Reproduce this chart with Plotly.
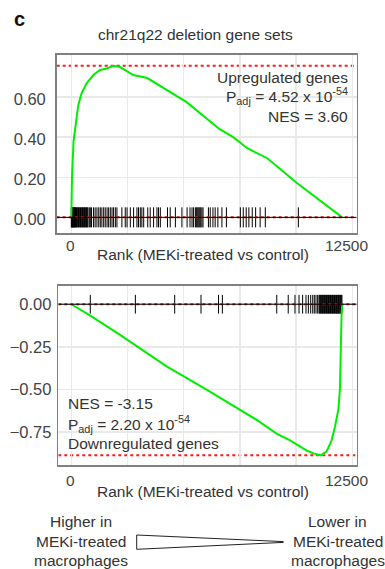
import plotly.graph_objects as go

# ---------------- data ----------------
# Upregulated gene set: running enrichment score
up_rank = [0, 30, 100, 200, 310, 460, 690, 980, 1280, 1570, 1870, 2170, 2760, 3380,
           3950, 5130, 6600, 7200, 7830, 8720, 10050, 11000, 12055]
up_es = [0.0, 0.20, 0.38, 0.47, 0.56, 0.62, 0.67, 0.71, 0.735, 0.743, 0.756, 0.75, 0.71,
         0.695, 0.655, 0.575, 0.44, 0.40, 0.345, 0.295, 0.17, 0.09, 0.0]
# Upregulated gene set: ranks of member genes (rug)
up_hits = [0, 15, 30, 45, 60, 80, 100, 120, 140, 160, 185, 210, 235, 260, 290, 320, 350,
           380, 410, 440, 470, 500, 530, 560, 590, 620, 650, 680, 710, 740,
           800, 845, 900, 990, 1060, 1140, 1220, 1290, 1360, 1440, 1510, 1590, 1660, 1735,
           1810, 1880, 1960, 2030, 2250, 2400, 2480, 2625, 2770, 2920, 2990, 3070, 3140,
           3220, 3400, 3510, 3660, 3810, 3880, 3960, 4280, 4400, 4630, 4920, 5150, 5280,
           5370, 5440, 5520, 5560, 5600, 5640, 5680, 5720, 5760, 5810, 5860, 6100, 6180,
           6300, 6400, 6520, 6700, 6900, 7520, 7650, 7780, 7900, 8050, 8200, 8400, 8630,
           10100]

# Downregulated gene set: running enrichment score
down_rank = [0, 830, 2170, 4240, 6000, 8250, 9130, 9730, 10170, 10470, 10800, 11100,
             11360, 11580, 11730, 11880, 11950, 11985, 12025, 12055]
down_es = [0.0, -0.065, -0.18, -0.365, -0.50, -0.68, -0.76, -0.80, -0.835, -0.86, -0.878,
           -0.888, -0.865, -0.80, -0.72, -0.62, -0.50, -0.25, -0.05, 0.0]
down_hits = [845, 2850, 4600, 5770, 6550, 6720, 9140, 9650, 9950, 10130, 10290, 10440,
             10545, 10650, 10740, 10810, 10885, 10960, 11020, 11050, 11080, 11110, 11140,
             11170, 11200, 11230, 11260, 11290, 11320, 11350, 11380, 11410, 11440, 11470,
             11500, 11530, 11560, 11590, 11620, 11650, 11680, 11710, 11740, 11770, 11800,
             11830, 11860, 11890, 11920, 11950, 11980, 12010, 12040]

x_grid = [0, 2500, 5000, 7500, 10000, 12500]
x_labels = ["0", "12500"]
x_label_vals = [0, 12500]
top_yticks = [0.0, 0.2, 0.4, 0.6]
bot_yticks = [0.0, -0.25, -0.5, -0.75]

title = "chr21q22 deletion gene sets"
xtitle = "Rank (MEKi-treated vs control)"
up_text = ["Upregulated genes", "P<sub>adj</sub> = 4.52 x 10<sup>-54</sup>", "NES = 3.60"]
down_text = ["NES = -3.15", "P<sub>adj</sub> = 2.20 x 10<sup>-54</sup>", "Downregulated genes"]
left_caption = ["Higher in", "MEKi-treated", "macrophages"]
right_caption = ["Lower in", "MEKi-treated", "macrophages"]

# ---------------- layout helpers ----------------
W, H = 385, 569
def PX(x):
    return x / W
def PY(y):
    return 1 - y / H

FONT = "Liberation Sans, Arial, sans-serif"
TXT = "#333333"
GREEN = "#00ee00"
GRID = "#e9e9e9"
FRAME = "#808080"

def rug(hits, h):
    xs, ys = [], []
    for r in hits:
        xs += [r, r, None]
        ys += [-h, h, None]
    return xs, ys

fig = go.Figure()
rx, ry = rug(up_hits, 0.05)
fig.add_trace(go.Scatter(x=rx, y=ry, mode="lines", line=dict(color="black", width=1),
                         xaxis="x", yaxis="y", hoverinfo="skip"))
fig.add_trace(go.Scatter(x=up_rank, y=up_es, mode="lines", line=dict(color=GREEN, width=2),
                         xaxis="x", yaxis="y"))
rx2, ry2 = rug(down_hits, 0.055)
fig.add_trace(go.Scatter(x=rx2, y=ry2, mode="lines", line=dict(color="black", width=1),
                         xaxis="x2", yaxis="y2", hoverinfo="skip"))
fig.add_trace(go.Scatter(x=down_rank, y=down_es, mode="lines", line=dict(color=GREEN, width=2),
                         xaxis="x2", yaxis="y2"))

common_x = dict(tickvals=x_grid, showticklabels=False, showgrid=True, gridcolor=GRID,
                gridwidth=1.5, showline=True, mirror=True, linecolor=FRAME, linewidth=1.6,
                zeroline=False, ticks="", fixedrange=True)
common_y = dict(showgrid=True, gridcolor=GRID, gridwidth=1.5, showline=True, mirror=True,
                linecolor=FRAME, linewidth=1.6, zeroline=False, ticks="", tickformat=".2f",
                tickfont=dict(family=FONT, size=16.5, color="#444444"), fixedrange=True)

fig.update_layout(
    width=W, height=H, autosize=False,
    margin=dict(l=0, r=0, t=0, b=0),
    paper_bgcolor="white", plot_bgcolor="white",
    showlegend=False,
    font=dict(family=FONT, color=TXT, size=15.5),
    xaxis=dict(domain=[PX(56.7), PX(356.7)], range=[-650, 12696], anchor="y", **common_x),
    yaxis=dict(domain=[PY(233), PY(55)], range=[-0.078, 0.81], anchor="x",
               tickvals=top_yticks, ticklabelstandoff=6, ticklabelshift=2, **common_y),
    xaxis2=dict(domain=[PX(58.3), PX(356.7)], range=[-578, 12696], anchor="y2", **common_x),
    yaxis2=dict(domain=[PY(465), PY(285.7)], range=[-0.945, 0.109], anchor="x2",
                tickvals=bot_yticks, ticklabelstandoff=2, **common_y),
)

shapes = []
for xa, yr, ext in [("x", "y", max(up_es)), ("x2", "y2", min(down_es))]:
    lo, hi = fig.layout[("xaxis" if xa == "x" else "xaxis2")].range
    shapes.append(dict(type="line", xref=xa, yref=yr, x0=lo, x1=hi, y0=ext, y1=ext,
                       line=dict(color="#ff1a1a", width=2, dash="dot"), layer="below"))
    shapes.append(dict(type="line", xref=xa, yref=yr, x0=lo, x1=hi, y0=0, y1=0,
                       line=dict(color="#cc2222", width=2, dash="dot"), layer="above"))
    shapes.append(dict(type="line", xref=xa, yref=yr, x0=lo, x1=hi, y0=0, y1=0,
                       line=dict(color="black", width=1), layer="above"))
# wedge between the two captions
shapes.append(dict(type="path", xref="paper", yref="paper",
                   path=f"M {PX(136.7)} {PY(535)} L {PX(283.3)} {PY(541.6)} L {PX(283.3)} {PY(542.4)} "
                        f"L {PX(136.7)} {PY(549.3)} Z",
                   line=dict(color="#222222", width=1), fillcolor="white", layer="above"))
fig.update_layout(shapes=shapes)

ann = []
def A(text, x, y, size=15.5, xanchor="center", color=TXT, **kw):
    ann.append(dict(text=text, x=PX(x), y=PY(y), xref="paper", yref="paper",
                    xanchor=xanchor, yanchor="middle", showarrow=False,
                    font=dict(family=FONT, size=size, color=color), **kw))

A("<b>c</b>", 19, 19, size=20, color="#111111")
A(title, 196, 34)
for i, t in enumerate(up_text):
    A(t, 350, [77, 96.5, 117][i], xanchor="right")
for i, t in enumerate(down_text):
    A(t, 66, [403.5, 423.5, 443.5][i], xanchor="left")
# x tick labels & titles
for xa, ylab, ytit in [("x", 245, 254.5), ("x2", 480, 491)]:
    for v, lab in zip(x_label_vals, x_labels):
        ann.append(dict(text=lab, x=v, xref=xa, y=PY(ylab), yref="paper",
                        xanchor="center", yanchor="middle", showarrow=False,
                        xshift=(-6 if v > 0 else -1),
                        font=dict(family=FONT, size=15.5, color="#444444")))
    A(xtitle, 203, ytit)
for i, t in enumerate(left_caption):
    A(t, 81, [521.5, 541, 560][i])
for i, t in enumerate(right_caption):
    A(t, 337.5, [521.5, 541, 560][i])
fig.update_layout(annotations=ann)

fig.write_html("out.html", config={"displayModeBar": False, "staticPlot": True},
               post_script="document.body.style.margin='0px';document.body.style.padding='0px';")
